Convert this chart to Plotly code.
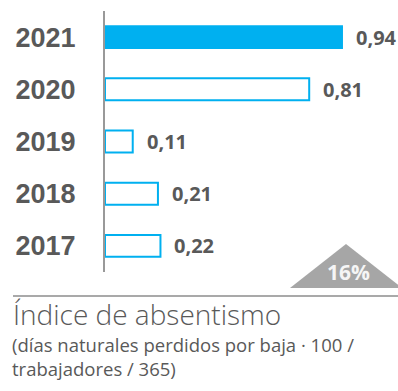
import plotly.graph_objects as go

# Absenteeism index by year
years = ["2017", "2018", "2019", "2020", "2021"]
values = [0.22, 0.21, 0.11, 0.81, 0.94]
change_label = "16%"
title = "Índice de absentismo"
subtitle_lines = ["(días naturales perdidos por baja · 100 /", "trabajadores / 365)"]

W, H = 398, 391
BLUE = "#00b0f0"
GREY_TXT = "#595959"


def px(x):
    return x / W


def py(y):
    return 1 - y / H


fill_colors = [BLUE if y == "2021" else "white" for y in years]

fig = go.Figure()
fig.add_trace(go.Bar(
    y=years, x=values, orientation="h",
    width=0.42,
    marker=dict(color=fill_colors, line=dict(color=BLUE, width=2)),
    hoverinfo="skip",
))

# value labels to the right of each bar
for i, v in enumerate(values):
    fig.add_annotation(
        x=v, y=i, xref="x", yref="y",
        text=f"{v:.2f}".replace(".", ","),
        showarrow=False, xanchor="left", yanchor="middle", xshift=13,
        borderpad=0,
        font=dict(family="Open Sans", size=20, color=GREY_TXT, weight="bold"),
    )

# change indicator triangle
fig.add_shape(
    type="path", xref="paper", yref="paper",
    path=f"M {px(290)} {py(288)} L {px(346)} {py(244)} L {px(402)} {py(288)} Z",
    fillcolor="#a6a6a6", line=dict(width=0),
)
fig.add_annotation(
    x=px(348), y=py(272), xref="paper", yref="paper",
    text=change_label, showarrow=False, xanchor="center", yanchor="middle",
    font=dict(family="Open Sans", size=21, color="#f5f5f5", weight="bold"),
)

# separator line above the caption
fig.add_shape(
    type="line", xref="paper", yref="paper",
    x0=px(13), x1=px(400), y0=py(296), y1=py(296),
    line=dict(color="#8c8c8c", width=1.5),
)

fig.add_annotation(
    x=px(11), y=py(314), xref="paper", yref="paper",
    text=title, showarrow=False, xanchor="left", yanchor="middle",
    font=dict(family="Open Sans", size=28, color=GREY_TXT, weight=300),
)
fig.add_annotation(
    x=px(11), y=py(331), xref="paper", yref="paper",
    text="<br>".join(subtitle_lines), showarrow=False,
    xanchor="left", yanchor="top", align="left", borderpad=0,
    font=dict(family="Open Sans", size=18.5, color=GREY_TXT),
)

x_left = 105
scale = 252.1  # pixels per unit
fig.update_layout(
    width=W, height=H,
    margin=dict(l=0, r=0, t=0, b=0),
    paper_bgcolor="white", plot_bgcolor="white",
    showlegend=False,
    xaxis=dict(
        domain=[px(x_left), 1], range=[0, (W - x_left) / scale],
        visible=False, fixedrange=True,
    ),
    yaxis=dict(
        domain=[py(272), py(11)], range=[-0.5, 4.5],
        type="category", categoryorder="array", categoryarray=years,
        showline=True, linecolor="#999999", linewidth=2,
        showgrid=False, zeroline=False, ticks="",
        ticklabelstandoff=22,
        tickfont=dict(family="Liberation Sans", size=27, color=GREY_TXT, weight="bold"),
        fixedrange=True,
    ),
)

fig.write_html("out.html")
